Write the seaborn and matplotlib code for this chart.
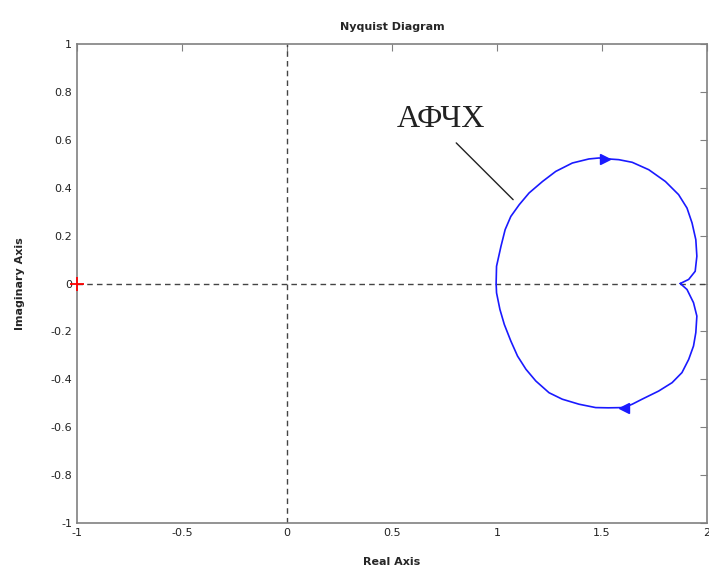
import numpy as np
import pandas as pd
import matplotlib
matplotlib.use("Agg")
import matplotlib.pyplot as plt
import seaborn as sns

# Nyquist curve (real, imaginary)
re_vals = [1.873, 1.913, 1.944, 1.952, 1.947, 1.929, 1.905, 1.865, 1.802, 1.723,
           1.644, 1.580, 1.515, 1.486, 1.438, 1.359, 1.280, 1.217, 1.153, 1.106,
           1.066, 1.039, 1.019, 0.998, 0.996,
           0.998, 1.014, 1.035, 1.066, 1.098, 1.138, 1.185, 1.248, 1.311, 1.391,
           1.470, 1.530, 1.604, 1.644, 1.691, 1.770, 1.834, 1.881, 1.913, 1.936,
           1.947, 1.952, 1.936, 1.905, 1.873]
im_vals = [0.0, 0.017, 0.051, 0.114, 0.183, 0.253, 0.315, 0.371, 0.426, 0.475,
           0.506, 0.517, 0.521, 0.524, 0.520, 0.503, 0.468, 0.426, 0.378, 0.329,
           0.280, 0.225, 0.155, 0.072, 0.0,
           -0.039, -0.108, -0.171, -0.240, -0.303, -0.358, -0.407, -0.456, -0.483, -0.504,
           -0.518, -0.519, -0.518, -0.504, -0.483, -0.449, -0.414, -0.372, -0.317, -0.261,
           -0.205, -0.136, -0.080, -0.025, 0.0]

# direction arrows on the curve
arrow_re = [1.515, 1.604]
arrow_im = [0.521, -0.518]
arrow_marks = ['>', '<']

x_ticks = [-1, -0.5, 0, 0.5, 1, 1.5, 2]
y_ticks = [-1, -0.8, -0.6, -0.4, -0.2, 0, 0.2, 0.4, 0.6, 0.8, 1]

label_text = "АФЧХ"
label_pos = (0.525, 0.654)
leader = ([0.806, 1.077], [0.587, 0.35])

df = pd.DataFrame({"re": re_vals, "im": im_vals})

sns.set_style("white")
plt.rcParams['font.family'] = ['DejaVu Sans']

fig = plt.figure(figsize=(7.09, 5.71), dpi=100)
ax = fig.add_axes([0.1086, 0.084, 0.8885, 0.839])

ax.axhline(0, color='#444444', linestyle='--', linewidth=1, dashes=(4, 3))
ax.axvline(0, color='#444444', linestyle='--', linewidth=1, dashes=(4, 3))

sns.lineplot(data=df, x="re", y="im", sort=False, estimator=None,
             color='#1a1aff', linewidth=1.2, ax=ax)

for xr, yi, m in zip(arrow_re, arrow_im, arrow_marks):
    ax.plot(xr, yi, marker=m, color='#1a1aff', markersize=7)

ax.plot(-1, 0, marker='+', color='red', markersize=10, markeredgewidth=1.3,
        clip_on=False, zorder=5)

ax.plot(leader[0], leader[1], color='#222222', linewidth=1)
ax.text(label_pos[0], label_pos[1], label_text, family=['Liberation Serif'],
        fontsize=23, color='#222222', va='baseline', ha='left')

ax.set_xlim(-1, 2)
ax.set_ylim(-1, 1)
ax.set_xticks(x_ticks)
ax.set_yticks(y_ticks)
ax.set_xticklabels([f"{t:g}" for t in x_ticks], fontsize=8)
ax.set_yticklabels([f"{t:g}" for t in y_ticks], fontsize=8)
ax.tick_params(direction='in', length=5, top=True, right=True, color='#808080',
               labelcolor='#222222')
for s in ax.spines.values():
    s.set_color('#808080')
    s.set_linewidth(1.2)

ax.set_title("Nyquist Diagram", fontsize=8, fontweight='bold', pad=10)
ax.set_xlabel("Real Axis", fontsize=8, fontweight='bold', labelpad=14)
ax.set_ylabel("Imaginary Axis", fontsize=8, fontweight='bold', labelpad=18)

fig.savefig("out.png", dpi=100)
